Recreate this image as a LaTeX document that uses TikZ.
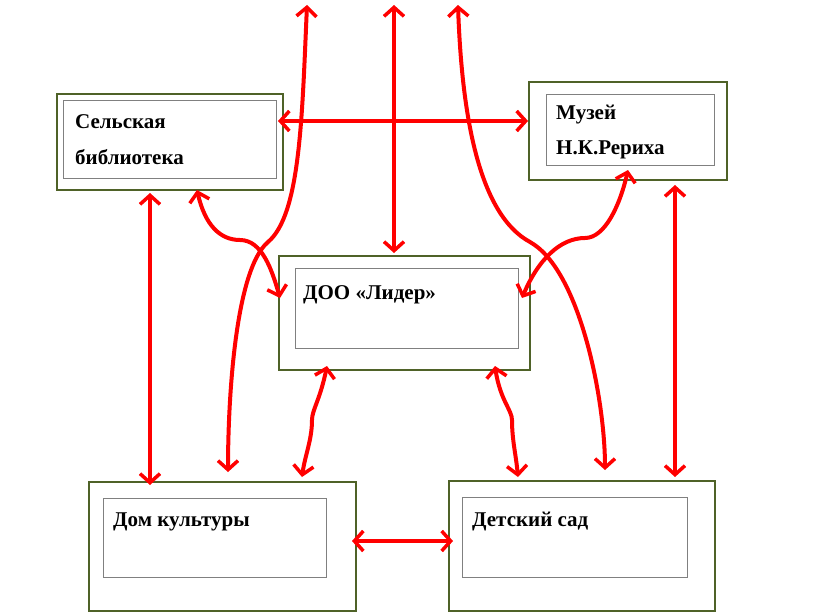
\documentclass[tikz,border=0pt]{standalone}
\usepackage{fontspec}
\setmainfont{Liberation Serif}
\usetikzlibrary{arrows.meta}
\definecolor{boxg}{HTML}{4F6228}
\begin{document}
\begin{tikzpicture}[x=1pt,y=-1pt,
  outer/.style={draw=boxg,line width=2.6pt},
  inner/.style={draw=gray,line width=0.8pt},
  lbl/.style={anchor=west,font=\bfseries\fontsize{21}{24}\selectfont,inner sep=0pt},
  conn/.style={draw=red,line width=4pt,{Straight Barb[length=9pt,width=20pt,line width=3.5pt]}-{Straight Barb[length=9pt,width=20pt,line width=3.5pt]}}]
\useasboundingbox (0,0) rectangle (825,613);
% boxes
\node[outer,minimum width=226,minimum height=96,inner sep=0] (lib) at (170,142) {};
\draw[inner] (63,100) rectangle (276,178);
\node[lbl] (libt1) at (75,122) {Сельская};
\node[lbl] (libt2) at (75,157) {библиотека};
\node[outer,minimum width=198,minimum height=98,inner sep=0] (mus) at (628,131) {};
\draw[inner] (546,94) rectangle (714,165);
\node[lbl] (must1) at (556,115) {Музей};
\node[lbl] (must2) at (556,150) {Н.К.Рериха};
\node[outer,minimum width=251,minimum height=114,inner sep=0] (doo) at (404.5,313) {};
\draw[inner] (295,268) rectangle (518,348);
\node[lbl] (doot) at (303,295) {ДОО «Лидер»};
\node[outer,minimum width=267,minimum height=129,inner sep=0] (dk) at (222.5,546.5) {};
\draw[inner] (103,498) rectangle (326,577);
\node[lbl] (dkt) at (113,522) {Дом культуры};
\node[outer,minimum width=266,minimum height=130,inner sep=0] (ds) at (582,546) {};
\draw[inner] (462,497) rectangle (687,577);
\node[lbl] (dst) at (472,522) {Детский сад};
% free ends
\coordinate (t1) at (307,5);
\coordinate (t2) at (394,5);
\coordinate (t3) at (458,5);
% connectors
\draw[conn] (278,121) -- (528,121);
\draw[conn] (t2) -- (394,253);
\draw[conn] (t1) .. controls (302,120) and (300,215) .. (268,242) .. controls (235,270) and (228,400) .. (228,472);
\draw[conn] (t3) .. controls (462,120) and (480,215) .. (530,242) .. controls (580,270) and (605,400) .. (605,470);
\draw[conn] (150,193) -- (150,485);
\draw[conn] (197,190) .. controls (205,225) and (220,240) .. (240,240) .. controls (262,240) and (272,270) .. (280,298);
\draw[conn] (628,170) .. controls (620,205) and (605,238) .. (585,238) .. controls (560,238) and (538,260) .. (522,298);
\draw[conn] (675,185) -- (675,477);
\draw[conn] (327,366) .. controls (320,400) and (312,410) .. (312,420) .. controls (312,440) and (305,455) .. (302,477);
\draw[conn] (495,366) .. controls (500,400) and (512,410) .. (512,420) .. controls (512,440) and (516,455) .. (518,477);
\draw[conn] (352,541) -- (453,541);
\end{tikzpicture}
\end{document}
